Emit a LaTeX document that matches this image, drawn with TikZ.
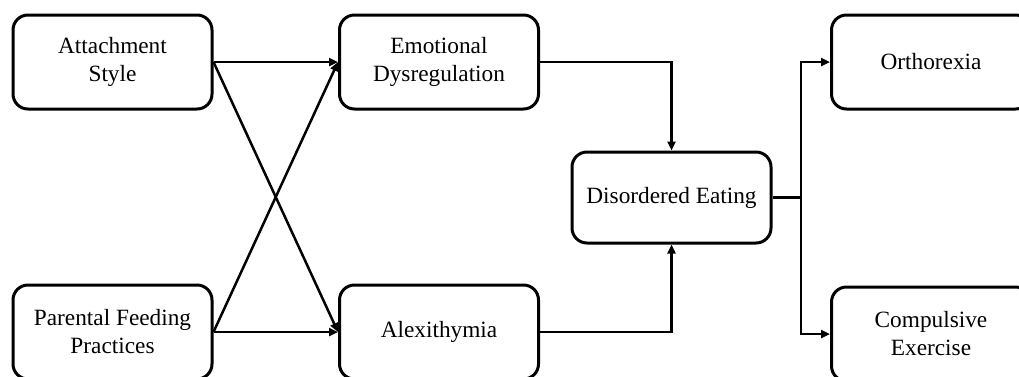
\documentclass[tikz,border=0pt]{standalone}
\usepackage{fontspec}
\setmainfont{Liberation Serif}
\usetikzlibrary{arrows.meta}
\begin{document}
\begin{tikzpicture}[x=1pt,y=-1pt,
  box/.style={draw=black, line width=3pt, rounded corners=15pt, fill=white,
    minimum width=199pt, minimum height=94pt, align=center, inner sep=0pt,
    font=\fontsize{23.3}{28}\selectfont},
  arr/.style={line width=2.5pt, -{Triangle[length=9pt,width=8pt]}},
  ln/.style={line width=2.5pt}]
\useasboundingbox (0,0) rectangle (1019,376);
\node[box] (att) at (112.5,62) {Attachment\\Style};
\node[box] (pfp) at (112.5,332) {Parental Feeding\\Practices};
\node[box] (emo) at (439,62) {Emotional\\Dysregulation};
\node[box] (alx) at (439,332) {Alexithymia};
\node[box, minimum height=91pt] (de) at (671.5,197.5) {Disordered Eating};
\node[box] (ort) at (931,62) {Orthorexia};
\node[box] (cmp) at (931,334) {Compulsive\\Exercise};
\coordinate (br) at (801,197.5);
\draw[arr] (att.east) -- (emo.west);
\draw[arr] (pfp.east) -- (alx.west);
\draw[arr] (att.east) -- (alx.west);
\draw[arr] (pfp.east) -- (emo.west);
\draw[arr] (emo.east) -| (de.north);
\draw[arr] (alx.east) -| (de.south);
\draw[ln] (de.east) -- (br);
\draw[arr] (br) |- (ort.west);
\draw[arr] (br) |- (cmp.west);
\end{tikzpicture}
\end{document}
